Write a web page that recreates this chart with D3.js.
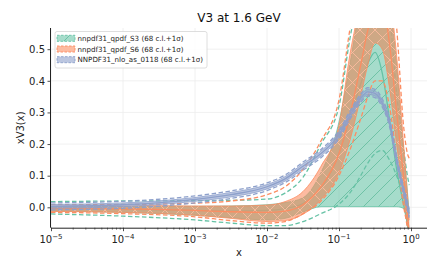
<!DOCTYPE html>
<html><head><meta charset="utf-8">
<script src="https://cdn.jsdelivr.net/npm/d3@7"></script>
<style>body{margin:0;background:#fff}text{font-family:"DejaVu Sans",sans-serif}</style>
</head><body>
<svg id="c" width="443" height="272"></svg>
<script>
// x grid (momentum fraction)
const xs = [1e-5, 1e-4, 1e-3, 0.00316, 0.01, 0.0178, 0.0316, 0.0562, 0.1, 0.141, 0.2, 0.251, 0.316, 0.398, 0.501, 0.631, 0.794, 0.891, 0.944];
const setNames = ["nnpdf31_qpdf_S3 (68 c.l.+1σ)", "nnpdf31_qpdf_S6 (68 c.l.+1σ)", "NNPDF31_nlo_as_0118 (68 c.l.+1σ)"];
const xTickVals = [1e-5, 1e-4, 1e-3, 1e-2, 1e-1, 1];
const xTickExp = ["−5", "−4", "−3", "−2", "−1", "0"];
const yTickVals = [0, 0.1, 0.2, 0.3, 0.4, 0.5];

// S3
const s3Central = [-0.004,-0.006,-0.010,-0.012,-0.010,-0.004,0.012,0.060,0.170,0.280,0.390,0.455,0.490,0.425,0.280,0.120,0.005,-0.055,-0.100];
const s3BandLo  = [-0.012,-0.016,-0.025,-0.033,-0.040,-0.035,-0.015,0.002,0.002,0.002,0.002,0.002,0.002,0.002,0.002,0.002,-0.004,-0.060,-0.110];
const s3BandHi  = [0.004,0.004,0.003,0.004,0.008,0.015,0.030,0.110,0.270,0.450,0.650,0.750,0.800,0.780,0.660,0.450,0.170,0.050,-0.020];
const s3SigHi   = [0.018,0.020,0.021,0.022,0.026,0.045,0.095,0.200,0.320,0.530,0.700,0.760,0.780,0.760,0.620,0.360,0.180,0.100,0.070];
const s3SigLo   = [-0.021,-0.028,-0.040,-0.050,-0.058,-0.058,-0.045,-0.020,0.010,0.045,0.100,0.140,0.170,0.180,0.150,0.100,0.030,-0.030,-0.080];
// S6
const s6Central = [-0.004,-0.005,-0.010,-0.014,-0.016,-0.012,0.008,0.065,0.170,0.290,0.450,0.560,0.640,0.640,0.520,0.300,0.090,-0.020,-0.080];
const s6BandLo  = [-0.013,-0.016,-0.025,-0.035,-0.045,-0.042,-0.022,0.025,0.110,0.210,0.350,0.450,0.520,0.500,0.380,0.200,0.030,-0.050,-0.100];
const s6BandHi  = [0.006,0.006,0.004,0.004,0.007,0.018,0.050,0.130,0.260,0.480,0.650,0.740,0.800,0.790,0.680,0.480,0.190,0.040,-0.040];
const s6SigHi   = [0.008,0.009,0.013,0.020,0.040,0.065,0.120,0.210,0.340,0.560,0.750,0.850,0.900,0.900,0.800,0.570,0.250,0.170,0.155];
const s6SigLo   = [-0.016,-0.020,-0.030,-0.042,-0.050,-0.045,-0.020,0.020,0.100,0.180,0.280,0.350,0.400,0.400,0.320,0.160,0.000,-0.070,-0.130];
// NNPDF31 nlo
const nnCentral = [0.003,0.008,0.025,0.040,0.065,0.090,0.130,0.170,0.230,0.290,0.345,0.365,0.360,0.330,0.270,0.150,0.050,0.005,-0.020];
const nnBandLo  = [-0.003,0.002,0.019,0.033,0.058,0.083,0.122,0.162,0.222,0.282,0.337,0.357,0.352,0.322,0.262,0.142,0.042,-0.003,-0.028];
const nnBandHi  = [0.009,0.014,0.031,0.047,0.072,0.097,0.138,0.178,0.238,0.298,0.353,0.373,0.368,0.338,0.278,0.158,0.058,0.013,-0.012];
const nnSigLo   = [-0.008,-0.003,0.014,0.028,0.053,0.078,0.117,0.157,0.217,0.277,0.332,0.352,0.347,0.317,0.257,0.137,0.037,-0.008,-0.033];
const nnSigHi   = [0.014,0.019,0.036,0.052,0.077,0.102,0.143,0.183,0.243,0.303,0.358,0.378,0.373,0.343,0.283,0.163,0.063,0.018,-0.007];

const colors = ["#66c2a5", "#fc8d62", "#8da0cb"];

const sets = [
  {c: s3Central, lo: s3BandLo, hi: s3BandHi, slo: s3SigLo, shi: s3SigHi, pat: "hg"},
  {c: s6Central, lo: s6BandLo, hi: s6BandHi, slo: s6SigLo, shi: s6SigHi, pat: "ho"},
  {c: nnCentral, lo: nnBandLo, hi: nnBandHi, slo: nnSigLo, shi: nnSigHi, pat: "hb"}
];

const L = 51, R = 427, T = 28, B = 227.7;
const svg = d3.select("#c");
const x = d3.scaleLog().domain([1e-5, Math.pow(10, 0.222)]).range([L, R]);
const y = d3.scaleLinear().domain([-0.0645, 0.567]).range([B, T]);

const defs = svg.append("defs");
defs.append("clipPath").attr("id", "clip").append("rect")
  .attr("x", L).attr("y", T).attr("width", R - L).attr("height", B - T);

function hatch(id, col, fillOp, kind, sw, hc) {
  const p = defs.append("pattern").attr("id", id).attr("patternUnits", "userSpaceOnUse")
    .attr("width", 15).attr("height", 15);
  p.append("rect").attr("width", 15).attr("height", 15).attr("fill", col).attr("fill-opacity", fillOp);
  if (kind.includes("/")) p.append("path").attr("d", "M0,15 L15,0 M-4,4 L4,-4 M11,19 L19,11")
    .attr("stroke", hc).attr("stroke-width", sw).attr("fill", "none");
  if (kind.includes("\\")) p.append("path").attr("d", "M0,0 L15,15 M-4,11 L4,19 M11,-4 L19,4")
    .attr("stroke", hc).attr("stroke-width", sw).attr("fill", "none");
  if (kind.includes("-")) p.append("path").attr("d", "M0,3 L15,3 M0,10.5 L15,10.5")
    .attr("stroke", hc).attr("stroke-width", sw).attr("fill", "none");
}
hatch("hg", colors[0], 0.58, "/", 0.7, "#58b797");
hatch("ho", colors[1], 0.6, "/\\", 0.9, "#fdbb9f");
hatch("hb", colors[2], 0.6, "-", 0.6, "#b8c4e0");

// grid
const g = svg.append("g");
g.selectAll(".gx").data(xTickVals).enter().append("line")
  .attr("x1", d => x(d)).attr("x2", d => x(d)).attr("y1", T).attr("y2", B)
  .attr("stroke", "#ececec").attr("stroke-width", 0.8);
g.selectAll(".gy").data(yTickVals).enter().append("line")
  .attr("x1", L).attr("x2", R).attr("y1", d => y(d)).attr("y2", d => y(d))
  .attr("stroke", "#ececec").attr("stroke-width", 0.8);

const plot = svg.append("g").attr("clip-path", "url(#clip)");
const line = d3.line().x(d => x(d[0])).y(d => y(d[1])).curve(d3.curveMonotoneX);
const area = d3.area().x(d => x(d[0])).y0(d => y(d[1])).y1(d => y(d[2])).curve(d3.curveMonotoneX);
const bandData = s => xs.map((xv, k) => [xv, s.lo[k], s.hi[k]]);

// overlap region of S3 and S6 bands (darker, as in the reference)
defs.append("clipPath").attr("id", "ovl").append("path").attr("d", area(bandData(sets[1])));

sets.forEach((s, i) => {
  const col = colors[i];
  plot.append("path").datum(bandData(s))
    .attr("d", area).attr("fill", "url(#" + s.pat + ")").attr("stroke", "none");
  if (i === 0) {
    plot.append("path").datum(bandData(s)).attr("d", area).attr("clip-path", "url(#ovl)")
      .attr("fill", col).attr("fill-opacity", 0.45);
  }
  [s.lo, s.hi].forEach(arr => plot.append("path").datum(xs.map((xv, k) => [xv, arr[k]]))
    .attr("d", line).attr("fill", "none").attr("stroke", col).attr("stroke-width", 0.9).attr("stroke-opacity", 0.9));
  plot.append("path").datum(xs.map((xv, k) => [xv, s.c[k]]))
    .attr("d", line).attr("fill", "none").attr("stroke", col).attr("stroke-width", 1.3);
  [s.slo, s.shi].forEach(arr => plot.append("path").datum(xs.map((xv, k) => [xv, arr[k]]))
    .attr("d", line).attr("fill", "none").attr("stroke", col).attr("stroke-width", 1.3)
    .attr("stroke-dasharray", "4.5,2.5"));
});

// axes
const minor = [];
for (let e = -5; e <= 0; e++) for (let m = 2; m <= 9; m++) { const v = m * Math.pow(10, e); if (x(v) <= R) minor.push(v); }
svg.append("g").attr("transform", `translate(0,${B})`)
  .call(d3.axisBottom(x).tickValues(minor).tickSize(2).tickFormat(""))
  .call(a => a.select(".domain").remove())
  .call(a => a.selectAll("line").attr("stroke", "#222").attr("stroke-width", 0.6));
const xa = svg.append("g").attr("transform", `translate(0,${B})`)
  .call(d3.axisBottom(x).tickValues(xTickVals).tickSize(3.5).tickSizeOuter(0).tickFormat(""));
xa.select(".domain").attr("stroke", "#222").attr("stroke-width", 1).attr("d", `M${L},0.5H${R}`);
xa.selectAll("line").attr("stroke", "#222").attr("stroke-width", 0.8);
xTickVals.forEach((v, i) => {
  const t = svg.append("text").attr("x", x(v)).attr("y", B + 15.5).attr("text-anchor", "middle")
    .attr("font-size", 10).attr("fill", "#222");
  t.append("tspan").text("10");
  t.append("tspan").attr("dy", -4.5).attr("font-size", 7).text(xTickExp[i]);
});

const ya = svg.append("g").attr("transform", `translate(${L},0)`)
  .call(d3.axisLeft(y).tickValues(yTickVals).tickSize(3.5).tickSizeOuter(0).tickFormat(d3.format(".1f")));
ya.select(".domain").attr("stroke", "#222").attr("stroke-width", 1).attr("d", `M-0.5,${T}V${B}`);
ya.selectAll("line").attr("stroke", "#222").attr("stroke-width", 0.8);
ya.selectAll("text").attr("font-size", 10).attr("fill", "#222").attr("font-family", "DejaVu Sans").attr("x", -6);

// labels
svg.append("text").attr("x", (L + R) / 2).attr("y", 21.5).attr("text-anchor", "middle")
  .attr("font-size", 12).attr("fill", "#111").text("V3 at 1.6 GeV");
svg.append("text").attr("x", (L + R) / 2).attr("y", 256).attr("text-anchor", "middle")
  .attr("font-size", 10).attr("fill", "#222").text("x");
svg.append("text").attr("transform", `translate(23.5,${(T + B) / 2}) rotate(-90)`).attr("text-anchor", "middle")
  .attr("font-size", 10).attr("fill", "#222").text("xV3(x)");

// legend
const lg = svg.append("g");
lg.append("rect").attr("x", 55).attr("y", 31.5).attr("width", 152).attr("height", 36.5).attr("rx", 2)
  .attr("fill", "#fff").attr("fill-opacity", 0.85).attr("stroke", "#d6d6d6").attr("stroke-width", 0.8);
setNames.forEach((name, i) => {
  const cy = 38.3 + i * 10.7;
  lg.append("rect").attr("x", 57).attr("y", cy - 3).attr("width", 18).attr("height", 6)
    .attr("fill", "url(#" + sets[i].pat + ")").attr("stroke", colors[i]).attr("stroke-width", 0.9)
    .attr("stroke-dasharray", "2.5,1.5");
  lg.append("text").attr("x", 77.5).attr("y", cy + 2.5).attr("font-size", 7.1).attr("fill", "#222").text(name);
});
</script>
</body></html>
